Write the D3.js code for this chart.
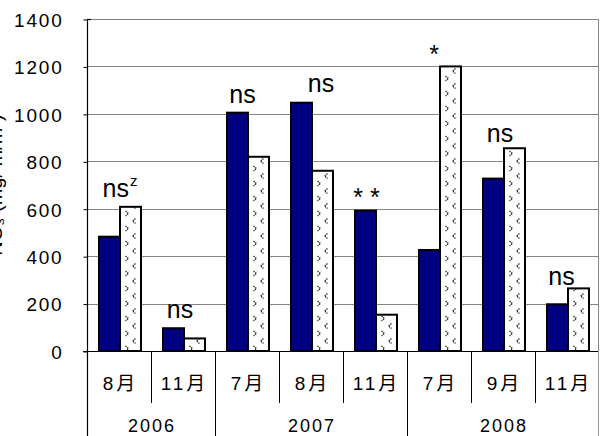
<!DOCTYPE html>
<html>
<head>
<meta charset="utf-8">
<script src="https://cdn.jsdelivr.net/npm/d3@7"></script>
<style>
  html, body { margin: 0; padding: 0; background: #fff; }
  svg { display: block; }
</style>
</head>
<body>
<svg id="chart" width="600" height="436"></svg>
<script>
// Sampling dates and their years
const months = ["8月", "11月", "7月", "8月", "11月", "7月", "9月", "11月"];
const years = ["2006", "2006", "2007", "2007", "2007", "2008", "2008", "2008"];
// Two treatments per date
const seriesA = [482, 96, 1005, 1047, 592, 426, 727, 197];
const seriesB = [608, 53, 819, 760, 153, 1200, 855, 264];
// Significance marks per date
const sigLabels = ["ns", "ns", "ns", "ns", "* *", "*", "ns", "ns"];
const sigSuper = ["z", "", "", "", "", "", "", ""];
const yTicks = [0, 200, 400, 600, 800, 1000, 1200, 1400];

// Hand placement of the significance marks
const labelDx = [1, -3, -4.5, 10, -8.5, -5, -3, -5.5];
const labelGap = [10, 10.3, 9.7, 10.7, 4.7, 3.4, 6.6, 3.3];

const svg = d3.select("#chart");
const plotLeft = 87, plotRight = 599, plotTop = 19, plotBottom = 351;

const x = d3.scaleBand().domain(d3.range(months.length)).range([plotLeft, plotRight]).padding(0);
const inner = d3.scaleBand().domain(["a", "b"]).range([12, 54]).padding(0);
const y = d3.scaleLinear().domain([0, 1400]).range([plotBottom, plotTop]);

// Chevron fill for the second series
const defs = svg.append("defs");
const pat = defs.append("pattern")
  .attr("id", "chev")
  .attr("patternUnits", "userSpaceOnUse")
  .attr("x", plotLeft + 34).attr("y", 0)
  .attr("width", 16).attr("height", 15);
pat.append("rect").attr("width", 16).attr("height", 15).attr("fill", "#fff");
pat.append("path")
  .attr("d", "M4.5,1 L7.5,3.5 L4.5,6 M14.5,8.5 L11.5,11 L14.5,13.5")
  .attr("fill", "none").attr("stroke", "#333").attr("stroke-width", 1.3)
  .attr("stroke-dasharray", "1.5,0.7");

// Horizontal gridlines
svg.append("g")
  .selectAll("line")
  .data(yTicks.filter(d => d > 0))
  .join("line")
  .attr("x1", plotLeft).attr("x2", plotRight)
  .attr("y1", d => Math.round(y(d)) + 0.5).attr("y2", d => Math.round(y(d)) + 0.5)
  .attr("stroke", "#858585").attr("stroke-width", 1);

// Right frame edge
svg.append("line")
  .attr("x1", plotRight - 0.5).attr("x2", plotRight - 0.5)
  .attr("y1", plotTop).attr("y2", plotBottom)
  .attr("stroke", "#858585");

// Y axis
const yAxis = d3.axisLeft(y).tickValues(yTicks).tickSize(4).tickPadding(20)
  .tickFormat(d3.format("d"));
const gy = svg.append("g").attr("transform", `translate(${plotLeft + 0.5},0.5)`).call(yAxis);
gy.select(".domain").remove();
gy.selectAll(".tick line").attr("stroke", "#000");
gy.selectAll(".tick text")
  .attr("font-family", "Liberation Sans, Arial, sans-serif")
  .attr("font-size", 19).attr("fill", "#000")
  .attr("letter-spacing", "1.8px")
  .attr("dy", "0.36em");

// Axis lines
svg.append("line")
  .attr("x1", plotLeft + 0.5).attr("x2", plotLeft + 0.5)
  .attr("y1", plotTop).attr("y2", 436)
  .attr("stroke", "#000").attr("stroke-width", 1.2);
svg.append("line")
  .attr("x1", plotLeft).attr("x2", plotLeft + 4)
  .attr("y1", plotTop + 0.5).attr("y2", plotTop + 0.5)
  .attr("stroke", "#000").attr("stroke-width", 1.2);

// Bars
const bars = svg.append("g");
months.forEach((m, i) => {
  bars.append("rect")
    .attr("x", x(i) + inner("a"))
    .attr("y", y(seriesA[i]))
    .attr("width", inner.bandwidth())
    .attr("height", y(0) - y(seriesA[i]))
    .attr("fill", "#000080").attr("stroke", "#000").attr("stroke-width", 2);
  bars.append("rect")
    .attr("x", x(i) + inner("b"))
    .attr("y", y(seriesB[i]))
    .attr("width", inner.bandwidth())
    .attr("height", y(0) - y(seriesB[i]))
    .attr("fill", "url(#chev)").attr("stroke", "#000").attr("stroke-width", 2);
});

// X axis baseline
svg.append("line")
  .attr("x1", plotLeft - 4).attr("x2", plotRight)
  .attr("y1", plotBottom + 0.5).attr("y2", plotBottom + 0.5)
  .attr("stroke", "#000").attr("stroke-width", 1.2);

// Category separators: short within a year, full height between years
const sep = svg.append("g");
for (let i = 1; i < months.length; i++) {
  const yearBreak = years[i] !== years[i - 1];
  sep.append("line")
    .attr("x1", x(i) + 0.5).attr("x2", x(i) + 0.5)
    .attr("y1", plotBottom).attr("y2", yearBreak ? 436 : 403)
    .attr("stroke", "#000").attr("stroke-width", 1);
}
sep.append("line")
  .attr("x1", plotRight - 0.5).attr("x2", plotRight - 0.5)
  .attr("y1", plotBottom).attr("y2", 436)
  .attr("stroke", "#999").attr("stroke-width", 1);

// Month labels
svg.append("g")
  .selectAll("text")
  .data(months)
  .join("text")
  .attr("x", (d, i) => x(i) + x.bandwidth() / 2 + 1.5)
  .attr("y", 389.5)
  .attr("text-anchor", "middle")
  .attr("font-family", "Liberation Sans, 'Noto Sans CJK JP', sans-serif")
  .attr("font-size", 19)
  .attr("letter-spacing", "3px")
  .attr("fill", "#000")
  .text(d => d);

// Year labels centred under their months
const yearGroups = d3.groups(d3.range(months.length), i => years[i]);
svg.append("g")
  .selectAll("text")
  .data(yearGroups)
  .join("text")
  .attr("x", ([, idx]) => (x(idx[0]) + x(idx[idx.length - 1]) + x.bandwidth()) / 2 + 1)
  .attr("y", 432)
  .attr("text-anchor", "middle")
  .attr("font-family", "Liberation Sans, Arial, sans-serif")
  .attr("font-size", 18)
  .attr("letter-spacing", "2px")
  .attr("fill", "#000")
  .text(([yr]) => yr);

// Significance marks above each pair
const sig = svg.append("g")
  .attr("font-family", "Liberation Sans, Arial, sans-serif")
  .attr("fill", "#000");
sigLabels.forEach((s, i) => {
  const topVal = Math.max(seriesA[i], seriesB[i]);
  const t = sig.append("text")
    .attr("x", x(i) + x.bandwidth() / 2 + labelDx[i])
    .attr("y", y(topVal) - labelGap[i])
    .attr("text-anchor", "middle")
    .attr("font-size", 25);
  t.append("tspan").text(s);
  if (sigSuper[i]) {
    t.append("tspan").attr("font-size", 15).attr("dy", -11).attr("dx", 1).text(sigSuper[i]);
  }
});

// Y axis title (sits at the left edge of the canvas)
svg.append("text")
  .attr("transform", `translate(2,185) rotate(-90)`)
  .attr("text-anchor", "middle")
  .attr("font-family", "Liberation Sans, Arial, sans-serif")
  .attr("font-size", 20)
  .attr("fill", "#000")
  .text("NO₃ (mg/ m/m²)");
</script>
</body>
</html>
